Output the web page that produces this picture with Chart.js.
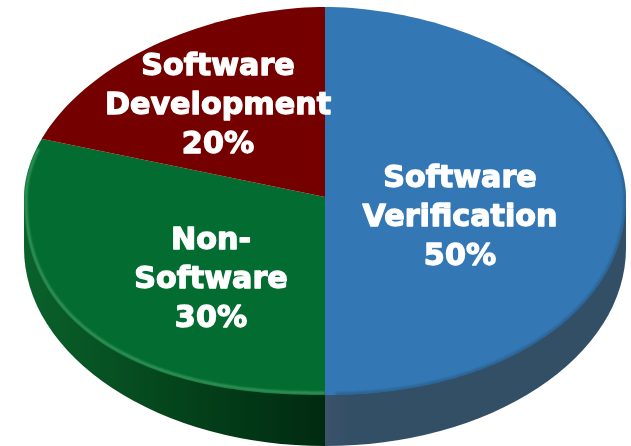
<!DOCTYPE html>
<html>
<head>
<meta charset="utf-8">
<style>
  html, body { margin: 0; padding: 0; background: #fff; }
  canvas { display: block; }
</style>
<script src="https://cdn.jsdelivr.net/npm/chart.js@4"></script>
</head>
<body>
<canvas id="pie" width="631" height="446"></canvas>
<script>
// ================= DATA =================
const categories = [
  ["Software", "Verification"],
  ["Non-", "Software"],
  ["Software", "Development"]
];
const shares = [50, 30, 20];

// ================= STYLE =================
const faceColors = ["#3378b4", "#036c30", "#740000"];
const rimColors = ["rgba(30,60,90,0.4)", "rgba(110,190,135,0.55)", null];
const sideStops = [
  [[0, "#3c5269"], [0.08, "#334f66"], [1, "#334f66"]],
  [[0, "#012a11"], [0.4, "#033f19"], [1, "#0a612b"]],
  null
];
// label centre relative to the pie centre
const labelOffsets = [[135, 21], [-114, 83], [-107, -91]];

const RX = 301;      // half width of the top face
const RY_TOP = 190;  // apex to back edge
const RY_BOT = 198;  // apex to front edge
const DEPTH = 51;
const LINE_H = 38.7;
// the face is not a true ellipse: perspective squares the front, more on the left
const N_TOP = 1.88;
const N_FRONT_LEFT = 2.3;
const N_FRONT_RIGHT = 2.1;

// point on the outline of the top face
function rimPoint(cx, cy, t, inset) {
  const c = Math.cos(t), s = Math.sin(t);
  const front = s >= 0;
  const n = front ? (c < 0 ? N_FRONT_LEFT : N_FRONT_RIGHT) : N_TOP;
  const ry = (front ? RY_BOT : RY_TOP) - inset;
  return [
    cx + (RX - inset) * Math.sign(c) * Math.pow(Math.abs(c), 2 / n),
    cy + ry * Math.sign(s) * Math.pow(Math.abs(s), 2 / n)
  ];
}

function tracePart(ctx, cx, cy, t0, t1, inset) {
  ctx.beginPath();
  for (let k = 0; k <= 240; k++) {
    const p = rimPoint(cx, cy, t0 + (t1 - t0) * k / 240, inset);
    if (k === 0) ctx.moveTo(p[0], p[1]);
    else ctx.lineTo(p[0], p[1]);
  }
}

// ================= 3D PIE =================
const pie3d = {
  id: "pie3d",
  beforeDatasetsDraw(chart) {
    const ctx = chart.ctx;
    const arcs = chart.getDatasetMeta(0).data;
    const cx = arcs[0].x, cy = arcs[0].y, r = arcs[0].outerRadius;

    // side wall, front half only
    arcs.forEach((arc, i) => {
      if (!sideStops[i]) return;
      const a0 = Math.max(arc.startAngle, 0);
      const a1 = Math.min(arc.endAngle, Math.PI);
      if (a1 <= a0) return;
      const g = ctx.createLinearGradient(cx, 0, i === 0 ? cx + RX : cx - RX, 0);
      sideStops[i].forEach(s => g.addColorStop(s[0], s[1]));
      ctx.beginPath();
      ctx.moveTo(cx, cy);
      ctx.lineTo(cx + RX * Math.cos(a0), cy + RY_BOT * Math.sin(a0));
      ctx.ellipse(cx, cy + DEPTH, RX, RY_BOT, 0, a0, a1);
      ctx.lineTo(cx + RX * Math.cos(a1), cy + RY_BOT * Math.sin(a1));
      ctx.closePath();
      ctx.fillStyle = g;
      ctx.fill();
    });

    // top face: slices drawn oversize by the library, cut to the outline
    ctx.save();
    tracePart(ctx, cx, cy, 0, Math.PI * 2, 0);
    ctx.closePath();
    ctx.clip();
    [[0, cy + 0.5, RY_TOP], [cy, chart.height - cy, RY_BOT]].forEach(h => {
      ctx.save();
      ctx.beginPath();
      ctx.rect(0, h[0], chart.width, h[1]);
      ctx.clip();
      ctx.translate(cx, cy);
      ctx.scale(1.3 * RX / r, 1.3 * h[2] / r);
      ctx.translate(-cx, -cy);
      arcs.forEach(arc => arc.draw(ctx));
      ctx.restore();
    });

    // soft bevel along the rim of the face
    arcs.forEach((arc, i) => {
      if (!rimColors[i]) return;
      ctx.save();
      ctx.beginPath();
      if (i === 0) ctx.rect(cx, 0, chart.width, chart.height);
      else ctx.rect(0, 0, cx, chart.height);
      ctx.clip();
      ctx.filter = "blur(1.2px)";
      ctx.strokeStyle = rimColors[i];
      ctx.lineWidth = 2.5;
      const t0 = i === 0 ? -0.9 : arc.startAngle;
      tracePart(ctx, cx, cy, t0, arc.endAngle - 0.03, i === 0 ? 1 : 2);
      ctx.stroke();
      ctx.restore();
    });
    ctx.restore();
    return false;
  },
  afterDraw(chart) {
    const ctx = chart.ctx;
    const arc0 = chart.getDatasetMeta(0).data[0];
    ctx.save();
    ctx.font = "bold 30.2px 'DejaVu Sans'";
    ctx.textAlign = "center";
    ctx.textBaseline = "middle";
    ctx.fillStyle = "#fff";
    ctx.strokeStyle = "#fff";
    ctx.lineWidth = 1.3;
    ctx.lineJoin = "round";
    chart.data.labels.forEach((label, i) => {
      const lines = label.concat(shares[i] + "%");
      const x = arc0.x + labelOffsets[i][0];
      const y = arc0.y + labelOffsets[i][1];
      lines.forEach((t, n) => {
        const ly = y + (n - 1) * LINE_H;
        ctx.fillText(t, x, ly);
        ctx.strokeText(t, x, ly);
      });
    });
    ctx.restore();
  }
};

new Chart(document.getElementById("pie"), {
  type: "pie",
  data: {
    labels: categories,
    datasets: [{
      data: shares,
      backgroundColor: faceColors,
      borderWidth: 0
    }]
  },
  options: {
    responsive: false,
    animation: false,
    layout: { padding: { left: 19, bottom: 52 } },
    plugins: { legend: { display: false }, tooltip: { enabled: false } }
  },
  plugins: [pie3d]
});
</script>
</body>
</html>
